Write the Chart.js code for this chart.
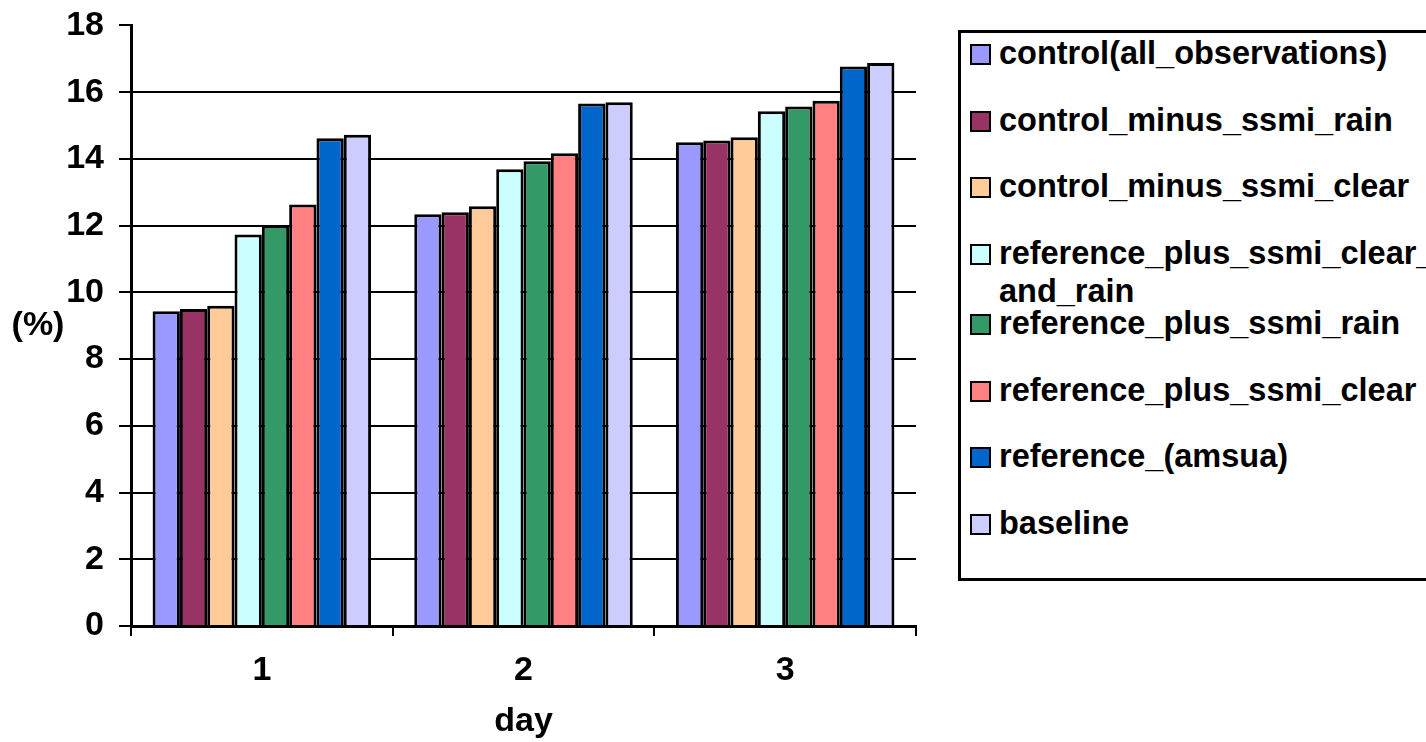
<!DOCTYPE html>
<html>
<head>
<meta charset="utf-8">
<script src="https://cdn.jsdelivr.net/npm/chart.js@4"></script>
<style>
  html, body { margin: 0; padding: 0; background: #fff; overflow: hidden; width: 1426px; height: 742px; }
  #wrap { position: absolute; left: 0; top: -10px; width: 930px; height: 752px; }
  #legend {
    position: absolute; left: 958px; top: 30px; width: 520px; height: 551px;
    border: 3px solid #000; box-sizing: border-box;
    font-family: "Liberation Sans", Arial, sans-serif; font-weight: bold; font-size: 32.5px; color: #000;
  }
  .item { position: relative; height: 66.7px; line-height: 38px; white-space: pre; padding-left: 38px; }
  .item.wrap { height: 70px; }
  .sw { position: absolute; left: 9px; top: 10px; width: 17px; height: 17px; border: 2px solid #000; }
</style>
</head>
<body>
<div id="wrap"><canvas id="chart"></canvas></div>
<div id="legend"></div>
<script>
// days on the x axis
var days = ['1', '2', '3'];
var yTicks = [0, 2, 4, 6, 8, 10, 12, 14, 16, 18];

var names = [
  'control(all_observations)',
  'control_minus_ssmi_rain',
  'control_minus_ssmi_clear',
  'reference_plus_ssmi_clear_\nand_rain',
  'reference_plus_ssmi_rain',
  'reference_plus_ssmi_clear',
  'reference_(amsua)',
  'baseline'
];
var colors = ['#9999FF', '#993366', '#FFCC99', '#CCFFFF', '#339966', '#FF8080', '#0066CC', '#CCCCFF'];

// values per series, one per day
var control_all = [9.43, 12.34, 14.50];
var control_minus_rain = [9.50, 12.40, 14.55];
var control_minus_clear = [9.60, 12.58, 14.65];
var ref_plus_clear_rain = [11.73, 13.69, 15.43];
var ref_plus_rain = [12.00, 13.93, 15.57];
var ref_plus_clear = [12.63, 14.17, 15.74];
var reference_amsua = [14.62, 15.66, 16.77];
var baseline = [14.72, 15.70, 16.87];

var series = [control_all, control_minus_rain, control_minus_clear, ref_plus_clear_rain,
  ref_plus_rain, ref_plus_clear, reference_amsua, baseline];

var axisFont = { family: '"Liberation Sans", Arial, sans-serif', weight: 'bold', size: 34 };

var datasets = [];
for (var i = 0; i < series.length; i++) {
  datasets.push({
    label: names[i].replace('\n', ''),
    data: series[i],
    backgroundColor: colors[i],
    borderColor: '#000',
    borderWidth: 3,
    borderSkipped: 'bottom',
    categoryPercentage: 0.835,
    barPercentage: 1
  });
}

// "(%)" sits horizontally left of the y axis
var percentLabel = {
  id: 'percentLabel',
  afterDraw: function(chart) {
    var c = chart.ctx, a = chart.chartArea;
    c.save();
    c.font = 'bold 34px ' + axisFont.family;
    c.fillStyle = '#000';
    c.textAlign = 'center';
    c.textBaseline = 'middle';
    c.fillText('(%)', 38, (a.top + a.bottom) / 2);
    c.restore();
  }
};

var ctx = document.getElementById('chart').getContext('2d');
var myChart = new Chart(ctx, {
  type: 'bar',
  data: { labels: days, datasets: datasets },
  plugins: [percentLabel],
  options: {
    responsive: true,
    maintainAspectRatio: false,
    animation: false,
    layout: { padding: { top: 15, right: 14, left: 0, bottom: 0 } },
    plugins: { legend: { display: false }, tooltip: { enabled: false } },
    scales: {
      x: {
        afterFit: function(s) { s.height = 116; },
        grid: { drawOnChartArea: false, drawTicks: true, tickLength: 10, tickColor: '#000', lineWidth: 2 },
        border: { color: '#000', width: 3 },
        ticks: { color: '#000', font: axisFont, padding: 14 },
        title: { display: true, text: 'day', color: '#000', font: axisFont, padding: { top: 9, bottom: 0 } }
      },
      y: {
        min: 0, max: 18,
        afterFit: function(s) { s.width = 131; },
        afterBuildTicks: function(s) { s.ticks = yTicks.map(function(v) { return { value: v }; }); },
        grid: {
          color: function(c) { return c.tick && c.tick.value === 18 ? 'rgba(0,0,0,0)' : '#000'; },
          tickColor: '#000', lineWidth: 2, tickLength: 12
        },
        border: { color: '#000', width: 3 },
        ticks: { color: '#000', font: axisFont, padding: 15 }
      }
    }
  }
});

// legend built from the same series names and colours
var lg = document.getElementById('legend');
var html = '<div style="height:1px"></div>';
for (var k = 0; k < names.length; k++) {
  html += '<div class="item' + (names[k].indexOf('\n') >= 0 ? ' wrap' : '') + '">' +
    '<span class="sw" style="background:' + colors[k] + '"></span>' + names[k] + '</div>';
}
lg.innerHTML = html;
</script>
</body>
</html>
